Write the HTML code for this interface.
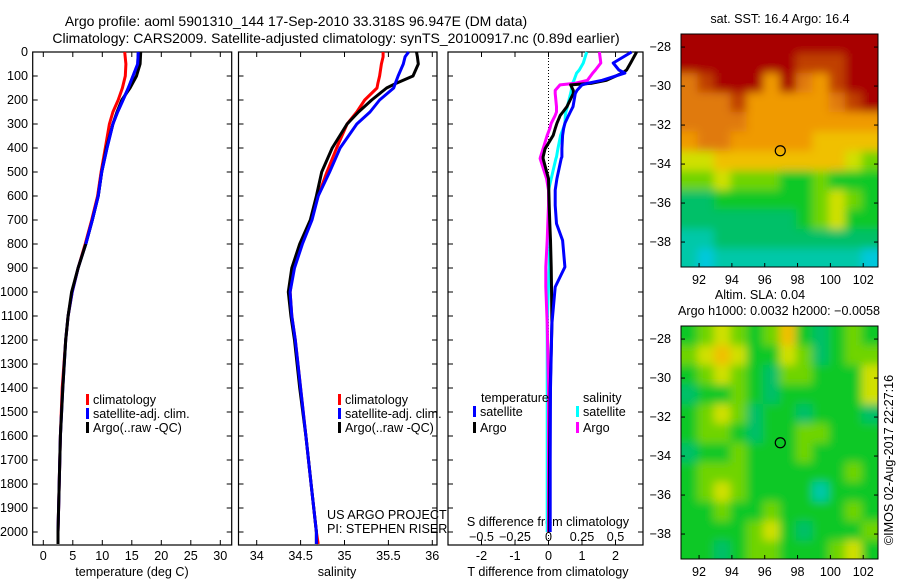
<!DOCTYPE html>
<html><head><meta charset="utf-8"><style>
html,body{margin:0;padding:0;background:#fff;width:900px;height:580px;overflow:hidden}
svg{font-family:"Liberation Sans",sans-serif;font-size:12.6px}
</style></head><body>
<svg id="fig" width="900" height="580" xmlns="http://www.w3.org/2000/svg">
<defs>
<filter id="blur" x="-5%" y="-5%" width="110%" height="110%"><feGaussianBlur stdDeviation="4.5"/></filter>
<clipPath id="clipTop"><rect x="681" y="34" width="197" height="233"/></clipPath>
<clipPath id="clipBot"><rect x="681" y="326" width="197" height="233"/></clipPath>
</defs>
<text x="296" y="26" text-anchor="middle" style="font-size:14px">Argo profile: aoml 5901310_144 17-Sep-2010 33.318S 96.947E (DM data)</text>
<text x="336" y="43" text-anchor="middle" style="font-size:14px">Climatology: CARS2009. Satellite-adjusted climatology: synTS_20100917.nc (0.89d earlier)</text>
</svg>
<script>
// ---- profile data (depth in m) ----
const tDepth=[0,50,100,150,200,250,300,400,500,600,700,800,900,1000,1100,1200,1400,1600,1800,2000,2050];
const tClim =[13.8,14.0,13.9,13.4,12.7,11.8,11.2,10.5,9.8,9.2,8.2,7.1,5.9,4.9,4.2,3.8,3.2,2.9,2.7,2.5,2.5];
const tSat  =[16.1,16.0,15.2,14.4,13.5,12.6,11.8,10.8,9.9,9.3,8.3,7.2,5.9,4.9,4.2,3.8,3.3,2.9,2.7,2.5,2.5];
const tArgo =[16.5,16.4,15.8,14.7,13.3,12.5,11.8,10.7,9.9,9.3,8.3,7.2,5.9,4.8,4.2,3.8,3.3,2.9,2.7,2.5,2.5];
const sDepth=[0,20,50,100,130,150,200,250,300,400,500,600,700,800,900,1000,1100,1200,1400,1600,1800,2000,2050];
const sClim =[35.44,35.44,35.42,35.40,35.38,35.37,35.23,35.14,35.03,34.91,34.80,34.70,34.62,34.51,34.42,34.38,34.40,34.44,34.50,34.56,34.62,34.68,34.70];
const sSat  =[35.73,35.69,35.67,35.61,35.58,35.56,35.40,35.29,35.14,34.95,34.83,34.70,34.63,34.52,34.43,34.38,34.40,34.44,34.50,34.56,34.62,34.68,34.68];
const sArgo =[35.82,35.83,35.84,35.78,35.59,35.48,35.31,35.16,35.03,34.86,34.74,34.68,34.61,34.49,34.40,34.36,34.39,34.43,34.49,34.56,34.62,34.68,34.68];
const dDepth=[0,46,75,88,118,130,137,160,173,228,250,264,297,319,347,403,437,444,528,576,639,715,785,896,979,1132,1400,1700,2000];
const dTSat =[2.48,1.93,2.1,2.28,1.6,1.18,1.0,0.85,0.8,0.73,0.65,0.6,0.49,0.45,0.42,0.40,0.40,0.38,0.25,0.2,0.2,0.24,0.42,0.49,0.2,0.1,0.06,0.05,0.05];
const dTArgo=[2.63,2.45,2.33,2.2,1.73,1.3,0.66,0.74,0.74,0.55,0.43,0.35,0.25,0.2,0.14,-0.1,-0.16,-0.16,0.0,0.01,0.02,0.04,0.06,0.08,0.09,0.1,0.05,0.03,0.02];
const dSSat =[0.285,0.26,0.23,0.21,0.19,0.18,0.175,0.17,0.165,0.14,0.13,0.125,0.123,0.11,0.09,0.07,0.06,0.055,0.02,0.0,0.0,0.005,0.01,0.005,0.0,-0.01,-0.01,-0.01,-0.01];
const dSArgo=[0.38,0.39,0.35,0.33,0.29,0.2,0.086,0.05,0.05,0.06,0.06,0.05,0.02,0.01,-0.01,-0.04,-0.06,-0.063,-0.014,0.0,0.0,-0.005,-0.01,-0.02,-0.02,-0.01,0.0,0.0,0.0];
const depthTicks=[0,100,200,300,400,500,600,700,800,900,1000,1100,1200,1300,1400,1500,1600,1700,1800,1900,2000];
const tTicks=[0,5,10,15,20,25,30];
const sTicks=[34,34.5,35,35.5,36];
const sTickLabels=["34","34.5","35","35.5","36"];
const dTTicks=[-2,-1,0,1,2];
const dSTicks=[-0.5,-0.25,0,0.25,0.5];
// ---- map data (12 lon cols x 12 lat rows, colour class index) ----
const mapLon=[91,92,93,94,95,96,97,98,99,100,101,102];
const sstRows=[
[10,10,10,10,10,10,10,10,10,10,10,10],
[10,10,10,10,10,10,10,9,9,9,10,10],
[8,9,10,10,10,7,10,8,7,9,10,10],
[8,8,8,9,7,7,7,7,7,8,9,10],
[8,8,8,8,7,7,7,7,7,7,7,7],
[7,8,8,7,7,7,7,7,6,6,6,6],
[5,5,6,6,6,6,6,6,6,6,5,4],
[4,4,5,4,4,4,3,3,4,3,3,3],
[2,2,3,3,3,3,3,3,4,5,4,3],
[2,2,2,2,2,2,2,3,4,5,3,3],
[1,1,2,2,2,2,2,2,2,2,2,2],
[1,0,1,1,1,1,1,1,1,1,1,0]];
const slaRows=[
[3,4,5,4,3,4,6,3,2,3,4,3],
[4,5,6,5,3,3,5,4,2,3,4,4],
[3,4,5,4,3,2,4,4,3,3,3,5],
[2,3,3,4,3,2,3,3,3,3,3,5],
[3,4,5,4,2,3,3,2,3,3,3,2],
[3,4,4,3,2,3,3,4,4,3,3,3],
[2,3,3,4,3,3,3,4,3,3,3,3],
[3,4,4,4,3,3,3,3,3,3,4,3],
[3,4,5,4,3,3,3,3,1,3,3,3],
[3,3,4,3,3,4,3,3,3,3,4,3],
[3,3,3,3,4,5,3,2,3,3,3,4],
[3,3,2,3,4,4,3,3,3,4,5,3]];
const palette=["#00c8dc","#00c8a8","#00c068","#10c828","#70d400","#d0e000","#f0c000","#f09a00","#e07a10","#c04000","#a80000"];
const latTicks=[-28,-30,-32,-34,-36,-38];
const lonTicks=[92,94,96,98,100,102];
const argoLon=96.947, argoLat=-33.318;

const svg=document.getElementById('fig');
const NS="http://www.w3.org/2000/svg";
function mk(tag,attrs,parent){const e=document.createElementNS(NS,tag);for(const k in attrs)e.setAttribute(k,attrs[k]);(parent||svg).appendChild(e);return e;}
function txt(x,y,s,anchor,parent){const e=mk('text',{x:x,y:y,'text-anchor':anchor||'start'},parent);e.textContent=s;return e;}

const yD=d=>52+d*0.24;
const PB=545;
const xT=v=>43.3+v*5.9;
const xS=v=>256.7+(v-34)*87.8;
const xDT=v=>548.5+v*33.5;
const xDS=v=>548.5+v*134;

function panel(x0,x1,name){
  const g=mk('g',{});
  
  
  mk('rect',{x:x0,y:52,width:x1-x0,height:PB-52,fill:'none',stroke:'#000','stroke-width':1.2},g);
  return g;
}
function line(g,xs,ds,fx,color,name){
  const p=xs.map((v,i)=>fx(v).toFixed(1)+','+yD(ds[i]).toFixed(1)).join(' ');
  const e=mk('polyline',{points:p,fill:'none',stroke:color,'stroke-width':3,'stroke-linejoin':'round'},g);
  
  
}
function legendEntry(g,x,y,color,label,name){
  const e=mk('g',{},g);
  
  
  mk('rect',{x:x,y:y-10,width:3,height:11,fill:color},e);
  txt(x+7,y,label,'start',e);
}

// Panel 1 temperature
const g1=panel(32.7,231.7,'temperature-panel');
depthTicks.forEach(d=>{
  mk('line',{x1:32.7,x2:37.7,y1:yD(d),y2:yD(d),stroke:'#000'},g1);
  mk('line',{x1:226.7,x2:231.7,y1:yD(d),y2:yD(d),stroke:'#000'},g1);
  const t=txt(28,yD(d)+4,String(d),'end',g1);
  
  
});
tTicks.forEach(v=>{
  mk('line',{x1:xT(v),x2:xT(v),y1:PB,y2:PB-5,stroke:'#000'},g1);
  mk('line',{x1:xT(v),x2:xT(v),y1:52,y2:57,stroke:'#000'},g1);
  txt(xT(v),560,String(v),'middle',g1);
});
const xl1=txt(132,576,'temperature (deg C)','middle',g1);


line(g1,tClim,tDepth,xT,'#ff0000','temp-climatology-line');
line(g1,tSat,tDepth,xT,'#0000ff','temp-satellite-line');
line(g1,tArgo,tDepth,xT,'#000000','temp-argo-line');
line(g1,tSat.slice(0,12),tDepth.slice(0,12),xT,'#0000ff','temp-satellite-overlay');
legendEntry(g1,86,404,'#ff0000','climatology','legend-climatology');
legendEntry(g1,86,418,'#0000ff','satellite-adj. clim.','legend-satellite');
legendEntry(g1,86,432,'#000000','Argo(..raw -QC)','legend-argo');

// Panel 2 salinity
const g2=panel(238.5,437,'salinity-panel');
depthTicks.forEach(d=>{
  mk('line',{x1:238.5,x2:243.5,y1:yD(d),y2:yD(d),stroke:'#000'},g2);
  mk('line',{x1:432,x2:437,y1:yD(d),y2:yD(d),stroke:'#000'},g2);
});
sTicks.forEach((v,i)=>{
  mk('line',{x1:xS(v),x2:xS(v),y1:PB,y2:PB-5,stroke:'#000'},g2);
  mk('line',{x1:xS(v),x2:xS(v),y1:52,y2:57,stroke:'#000'},g2);
  txt(xS(v),560,sTickLabels[i],'middle',g2);
});
txt(337,576,'salinity','middle',g2);
line(g2,sClim,sDepth,xS,'#ff0000','sal-climatology-line');
line(g2,sArgo,sDepth,xS,'#000000','sal-argo-line');
line(g2,sSat,sDepth,xS,'#0000ff','sal-satellite-line');
legendEntry(g2,338,404,'#ff0000','climatology','legend-climatology');
legendEntry(g2,338,418,'#0000ff','satellite-adj. clim.','legend-satellite');
legendEntry(g2,338,432,'#000000','Argo(..raw -QC)','legend-argo');
txt(327,519,'US ARGO PROJECT','start',g2);
txt(327,533,'PI: STEPHEN RISER','start',g2);

// Panel 3 differences
const g3=panel(448,643,'difference-panel');
depthTicks.forEach(d=>{
  mk('line',{x1:448,x2:453,y1:yD(d),y2:yD(d),stroke:'#000'},g3);
  mk('line',{x1:638,x2:643,y1:yD(d),y2:yD(d),stroke:'#000'},g3);
});
mk('line',{x1:548.5,x2:548.5,y1:52,y2:PB,stroke:'#000','stroke-dasharray':'1,2'},g3);
dTTicks.forEach(v=>{
  mk('line',{x1:xDT(v),x2:xDT(v),y1:PB,y2:PB-5,stroke:'#000'},g3);
  mk('line',{x1:xDT(v),x2:xDT(v),y1:52,y2:57,stroke:'#000'},g3);
  txt(xDT(v),560,String(v),'middle',g3);
});
dSTicks.forEach(v=>{txt(xDS(v),541,String(v).replace('-','\u2212'),'middle',g3);});
txt(548,526,'S difference from climatology','middle',g3);
txt(548,576,'T difference from climatology','middle',g3);
line(g3,dSSat,dDepth,xDS,'#00ffff','s-diff-satellite-line');
line(g3,dSArgo,dDepth,xDS,'#ff00ff','s-diff-argo-line');
line(g3,dTArgo,dDepth,xDT,'#000000','t-diff-argo-line');
line(g3,dTSat,dDepth,xDT,'#0000ff','t-diff-satellite-line');
txt(481,402,'temperature','start',g3);
txt(583,402,'salinity','start',g3);
legendEntry(g3,473,416,'#0000ff','satellite','legend-t-satellite');
legendEntry(g3,473,432,'#000000','Argo','legend-t-argo');
legendEntry(g3,576,416,'#00ffff','satellite','legend-s-satellite');
legendEntry(g3,576,432,'#ff00ff','Argo','legend-s-argo');

// Maps
function mapPanel(top,bottom,rows,name,cellName,clipId){
  const g=mk('g',{});
  
  
  const L=681,R=878,lonL=90.9,lonR=102.9,latT=-27.33,latB=-39.28;
  const xL=lon=>L+(lon-lonL)*(R-L)/(lonR-lonL);
  const yL=lat=>top+(latT-lat)*(bottom-top)/(latT-latB);
  const clipG=mk('g',{'clip-path':'url(#'+clipId+')'},g);
  const cells=mk('g',{filter:'url(#blur)'},clipG);
  rows.forEach((row,ri)=>{
    row.forEach((v,ci)=>{
      const lon0=mapLon[ci]-0.1, la0=latT-ri;
      let x0=xL(lon0), x1=xL(lon0+1);
      let y0=yL(la0), y1=yL(la0-1);
      if(ci===0)x0-=12; if(ci===row.length-1)x1+=12;
      if(ri===0)y0-=12; if(ri===rows.length-1)y1+=12;
      const c=mk('rect',{x:x0,y:y0,width:x1-x0+0.6,height:y1-y0+0.6,fill:palette[v]},cells);
      
      
    });
  });
  mk('rect',{x:L,y:top,width:R-L,height:bottom-top,fill:'none',stroke:'#000'},g);
  latTicks.forEach(la=>{
    mk('line',{x1:L,x2:L+4,y1:yL(la),y2:yL(la),stroke:'#000'},g);
    mk('line',{x1:R-4,x2:R,y1:yL(la),y2:yL(la),stroke:'#000'},g);
    txt(671,yL(la)+4,'\u2212'+String(-la).replace('-',''),'end',g);
  });
  lonTicks.forEach(lo=>{
    mk('line',{x1:xL(lo),x2:xL(lo),y1:bottom,y2:bottom-4,stroke:'#000'},g);
    txt(xL(lo),bottom+17,String(lo),'middle',g);
  });
  const m=mk('ellipse',{cx:xL(argoLon),cy:yL(argoLat),rx:5,ry:5,fill:'none',stroke:'#000','stroke-width':1.2},g);
  
  
}
mapPanel(34,267,sstRows,'sst-map','sst-cell','clipTop');
mapPanel(326,559,slaRows,'sla-map','sla-cell','clipBot');
txt(780,23,'sat. SST: 16.4 Argo: 16.4','middle');
txt(760,299,'Altim. SLA: 0.04','middle');
txt(779,315,'Argo h1000: 0.0032 h2000: \u22120.0058','middle');
const cr=txt(0,0,'\u00a9IMOS 02-Aug-2017 22:27:16','middle');
cr.setAttribute('transform','translate(893,460) rotate(-90)');


</script>
</body></html>
